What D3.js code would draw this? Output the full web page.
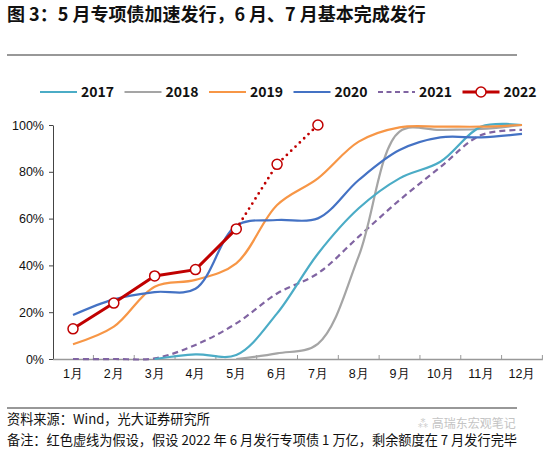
<!DOCTYPE html>
<html><head><meta charset="utf-8">
<script src="https://cdn.jsdelivr.net/npm/d3@7"></script>
<style>
html,body{margin:0;padding:0;background:#fff;}
svg{display:block;font-family:"Noto Sans CJK SC","Noto Sans",sans-serif;}
</style></head>
<body><svg id="chart" width="550" height="451"></svg>
<script>
const months = ["1月","2月","3月","4月","5月","6月","7月","8月","9月","10月","11月","12月"];
const yTicks = [0,20,40,60,80,100];
const years = ["2017","2018","2019","2020","2021","2022"];
const s2017 = [null,null,0,2,1.7,19.5,45,64.4,77.2,84.3,99.3,100];
const s2018 = [null,null,null,null,0,2.4,6.5,44,97.2,97.9,98.3,100];
const s2019 = [6.3,13.8,30.9,33.8,40.9,65.8,77.2,92.9,99,99.3,99.3,100];
const s2020 = [18.8,25.5,28.6,30,57,59.4,60.1,76.5,89.3,94.7,94.7,96.2];
const s2021 = [0,0,0.3,6,15.2,28,36.6,52.3,67.9,82,95.7,97.9];
const s2022 = [12.9,23.9,35.5,38.2,55.6,83.2,100,null,null,null,null,null];
const colors = ["#4BACC6","#A5A5A5","#F79646","#4472C4","#8064A2","#C00000"];

const svg = d3.select("#chart");
const x = d3.scaleBand().domain(months).range([52.6,542.4]);
const y = d3.scaleLinear().domain([0,100]).range([359,125]);
const cx = m => x(m) + x.bandwidth()/2;

// title
svg.append("text").attr("x",7).attr("y",21).attr("font-size",18).attr("font-weight","bold").attr("fill","#111")
  .text("图 3：5 月专项债加速发行，6 月、7 月基本完成发行");
svg.append("line").attr("x1",7).attr("x2",517).attr("y1",55).attr("y2",55).attr("stroke","#333").attr("stroke-width",1.2);

// axes
const yAxis = svg.append("g").attr("transform","translate(53,0)")
  .call(d3.axisLeft(y).tickValues(yTicks).tickFormat(d=>d+"%").tickSize(4).tickSizeOuter(0));
yAxis.select(".domain").attr("stroke","#444");
yAxis.selectAll(".tick line").attr("stroke","#444");
yAxis.selectAll("text").attr("font-size",12.5).attr("fill","#111").attr("x",-9);

const xAxis = svg.append("g").attr("transform","translate(0,359)")
  .call(d3.axisBottom(x).tickSize(0).tickSizeOuter(0));
xAxis.select(".domain").attr("stroke","#999").attr("stroke-width",1.5);
xAxis.selectAll("text").attr("font-size",12.5).attr("fill","#111").attr("dy","1.3em");
// boundary ticks (upward)
const bounds = months.map(m=>x(m)).concat([x.range()[1]]).slice(1);
svg.append("g").selectAll("line").data(bounds).join("line")
  .attr("x1",d=>d).attr("x2",d=>d).attr("y1",359).attr("y2",355).attr("stroke","#999");

// smoothed lines
const smooth = d3.line().defined(d=>d.v!=null).x(d=>cx(d.m)).y(d=>y(d.v)).curve(d3.curveCatmullRom.alpha(0.5));
const toPts = arr => arr.map((v,i)=>({m:months[i],v}));
const series = [s2017,s2018,s2019,s2020,s2021];
const order = [4,1,0,2,3];
order.forEach(i=>{
  const p = svg.append("path").datum(toPts(series[i])).attr("d",smooth).attr("fill","none")
    .attr("stroke",colors[i]).attr("stroke-width",2.2);
  if(i===4) p.attr("stroke-dasharray","6,4");
});

// 2022
const straight = d3.line().x(d=>cx(d.m)).y(d=>y(d.v));
const pts22 = toPts(s2022).filter(d=>d.v!=null);
svg.append("path").datum(pts22.slice(4)).attr("d",straight).attr("fill","none")
  .attr("stroke",colors[5]).attr("stroke-width",2.8).attr("stroke-dasharray","0,6").attr("stroke-linecap","round");
svg.append("path").datum(pts22.slice(0,5)).attr("d",straight).attr("fill","none")
  .attr("stroke",colors[5]).attr("stroke-width",3);
svg.append("g").selectAll("circle").data(pts22).join("circle")
  .attr("cx",d=>cx(d.m)).attr("cy",d=>y(d.v)).attr("r",5)
  .attr("fill","#fff").attr("stroke",colors[5]).attr("stroke-width",1.5);

// legend
const lg = svg.append("g").attr("transform","translate(40,92)");
years.forEach((yr,i)=>{
  const g = lg.append("g").attr("transform",`translate(${i*84.5},0)`);
  const l = g.append("line").attr("x1",0).attr("x2",37).attr("y1",0).attr("y2",0)
    .attr("stroke",colors[i]).attr("stroke-width",i===5?3:2);
  if(i===4) l.attr("stroke-dasharray","5,3.5");
  if(i===5) g.append("circle").attr("cx",18.5).attr("cy",0).attr("r",5).attr("fill","#fff").attr("stroke",colors[5]).attr("stroke-width",1.5);
  g.append("text").attr("x",41).attr("y",5).attr("font-size",14).attr("font-weight","bold").attr("fill","#111").text(yr);
});

// footer
svg.append("line").attr("x1",7).attr("x2",517).attr("y1",408).attr("y2",408).attr("stroke","#333").attr("stroke-width",1.2);
svg.append("text").attr("x",7).attr("y",424).attr("font-size",13.2).attr("fill","#111").text("资料来源：Wind，光大证券研究所");
svg.append("text").attr("x",7).attr("y",445).attr("font-size",13.2).attr("fill","#111")
  .text("备注：红色虚线为假设，假设 2022 年 6 月发行专项债 1 万亿，剩余额度在 7 月发行完毕");
svg.append("text").attr("x",417).attr("y",428).attr("font-size",12).attr("fill","#c4c4c4").text("⁂ 高瑞东宏观笔记");
</script></body></html>
